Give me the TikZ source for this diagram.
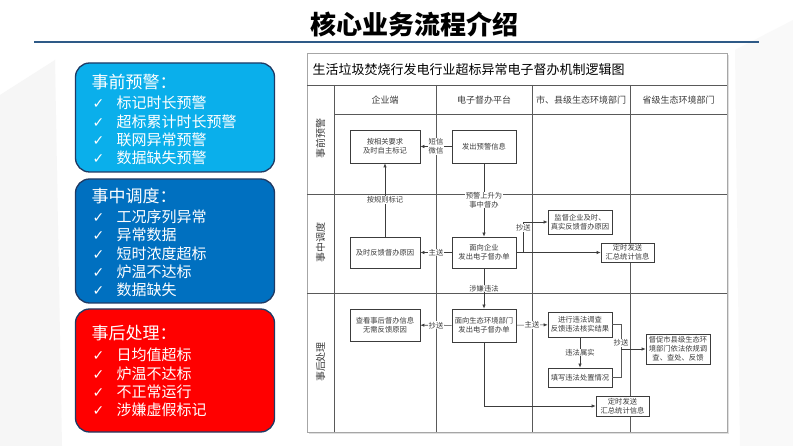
\documentclass[tikz,border=0pt]{standalone}
\usepackage{fontspec}
\setmainfont{Noto Sans CJK SC}
\newfontfamily\symfont{DejaVu Sans}
\usetikzlibrary{arrows.meta}
\definecolor{navy}{HTML}{1F3A64}
\definecolor{skyblue}{HTML}{0AAFEB}
\definecolor{midblue}{HTML}{0070C0}
\definecolor{alarmred}{HTML}{FF0000}
\definecolor{titleline}{HTML}{2E5A87}
\definecolor{ink}{HTML}{3C3C3C}
\newcommand\checkmk{{\symfont\fontsize{14}{14}\selectfont ✓}}
\tikzset{
  card/.style={draw=navy,line width=1.3pt,rounded corners=14pt,minimum width=199pt},
  head/.style={anchor=west,text=white,font=\fontsize{17}{17}\selectfont},
  item/.style={anchor=west,text=white,font=\fontsize{15}{15}\selectfont},
  box/.style={draw=ink,line width=0.6pt,fill=white,align=center,inner sep=1pt,
    text=ink,font=\fontsize{7.3}{9}\selectfont},
  tag/.style={fill=white,inner sep=0.6pt,align=center,text=ink,font=\fontsize{7.3}{9}\selectfont},
  flow/.style={draw=ink,line width=0.6pt,-{Latex[length=4pt,width=3.2pt]}},
  cell/.style={draw=ink!85,line width=0.6pt}
}
\begin{document}
\begin{tikzpicture}[x=1pt,y=-1pt]
\useasboundingbox (0,0) rectangle (793,446);
\fill[white] (0,0) rectangle (793,446);
\fill[gray!7] (0,95)--(55,60)--(62,446)--(0,446)--cycle;
\fill[gray!5] (735,50)--(793,20)--(793,446)--(740,446)--cycle;
%\draw[help lines,step=50] (0,0) grid (793,446);

% title
\node[font=\fontsize{26}{26}\selectfont\bfseries] (title) at (414,24) {核心业务流程介绍};
\draw[titleline,line width=2.5pt] (34,42)--(759,42);

% left cards
\node[card,fill=skyblue,minimum height=109pt] (pre) at (175,117.5) {};
\node[card,fill=midblue,minimum height=124pt] (mid) at (175,241) {};
\node[card,fill=alarmred,minimum height=123pt] (post) at (175,370.5) {};
\node[head] (pre-h) at (88,82) {事前预警：};
\node[head] (mid-h) at (88,196) {事中调度：};
\node[head] (post-h) at (88,333) {事后处理：};
\foreach \txt [count=\i] in {标记时长预警,超标累计时长预警,联网异常预警,数据缺失预警}
  \node[item] (pre-\i) at (89,{103+18.3*(\i-1)}) {\makebox[24pt][l]{\checkmk}\txt};
\foreach \txt [count=\i] in {工况序列异常,异常数据,短时浓度超标,炉温不达标,数据缺失}
  \node[item] (mid-\i) at (89,{217+18.3*(\i-1)}) {\makebox[24pt][l]{\checkmk}\txt};
\foreach \txt [count=\i] in {日均值超标,炉温不达标,不正常运行,涉嫌虚假标记}
  \node[item] (post-\i) at (89,{355+18.4*(\i-1)}) {\makebox[24pt][l]{\checkmk}\txt};

% swimlane frame
\fill[gray!25] (309,55) rectangle (729,434);
\filldraw[fill=white,draw=gray!70,line width=0.6pt] (307,53) rectangle (727,432);
\draw[cell] (307,85)--(727,85);
\draw[cell] (334,114)--(727,114);
\draw[cell] (307,194)--(727,194);
\draw[cell] (307,293)--(727,293);
\foreach \x in {334,436,532,630}
  \draw[cell] (\x,85)--(\x,432);
\node[anchor=west,text=black,font=\fontsize{13}{13}\selectfont] (chart) at (309,70)
  {生活垃圾焚烧行发电行业超标异常电子督办机制逻辑图};
\node[text=ink,font=\fontsize{9}{9}\selectfont] (col1) at (385,100) {企业端};
\node[text=ink,font=\fontsize{9}{9}\selectfont] (col2) at (484,100) {电子督办平台};
\node[text=ink,font=\fontsize{9}{9}\selectfont] (col3) at (581,100) {市、县级生态环境部门};
\node[text=ink,font=\fontsize{9}{9}\selectfont] (col4) at (678.5,100) {省级生态环境部门};
\node[rotate=90,text=ink,font=\fontsize{10}{10}\selectfont] (row1) at (320.5,139) {事前预警};
\node[rotate=90,text=ink,font=\fontsize{10}{10}\selectfont] (row2) at (320.5,243) {事中调度};
\node[rotate=90,text=ink,font=\fontsize{10}{10}\selectfont] (row3) at (320.5,362) {事后处理};

% steps
\node[box,minimum width=70pt,minimum height=33pt] (A) at (385,146.5) {按相关要求\\及时自主标记};
\node[box,minimum width=64pt,minimum height=33pt] (B) at (484,146.5) {发出预警信息};
\node[box,minimum width=64pt,minimum height=31pt] (C) at (484,252.5) {面向企业\\发出电子督办单};
\node[box,minimum width=70pt,minimum height=31pt] (D) at (385,252.5) {及时反馈督办原因};
\node[box,minimum width=64pt,minimum height=24pt] (E) at (580,222) {监督企业及时、\\真实反馈督办原因};
\node[box,minimum width=53pt,minimum height=19pt] (F) at (627.5,252.5) {定时发送\\汇总统计信息};
\node[box,minimum width=64pt,minimum height=33pt] (G) at (484,325.5) {面向生态环境部门\\发出电子督办单};
\node[box,minimum width=70pt,minimum height=32pt] (H) at (385,325) {查看事后督办信息\\无需反馈原因};
\node[box,minimum width=64pt,minimum height=25pt] (I) at (580,324.5) {进行违法调查\\反馈违法核实结果};
\node[box,minimum width=64pt,minimum height=19pt] (J) at (580,377.5) {填写违法处置情况};
\node[box,minimum width=64pt,minimum height=30pt] (K) at (678,349) {督促市县级生态环\\境部门依法依规调\\查、查处、反馈};
\node[box,minimum width=53pt,minimum height=20pt] (L) at (622.5,406) {定时发送\\汇总统计信息};
\coordinate (join) at (621,349);

% connectors
\draw[flow] (B) -- node[tag]{短信\\微信} (A);
\draw[flow] (B) -- node[tag]{预警上升为\\事中督办} (C);
\draw[flow] (D) -- node[tag]{按规则标记} (A);
\draw[flow] (C) -- node[tag]{主送} (D);
\draw[flow] (C.east) -- ++(7,0) |- node[tag,pos=0.4]{抄送} (E.west);
\draw[flow] (C) -- (F);
\draw[flow] (C) -- node[tag]{涉嫌违法} (G);
\draw[flow] (G) -- node[tag]{抄送} (H);
\draw[flow] (G) -- node[tag]{主送} (I);
\draw[flow] (I) -- node[tag]{违法属实} (J);
\draw[cell] (I.east) -| node[tag,pos=0.88]{抄送} (join);
\draw[cell] (J.east) -| (join);
\draw[flow] (join) -- (K);
\draw[flow] (G) |- (L);
\end{tikzpicture}
\end{document}
